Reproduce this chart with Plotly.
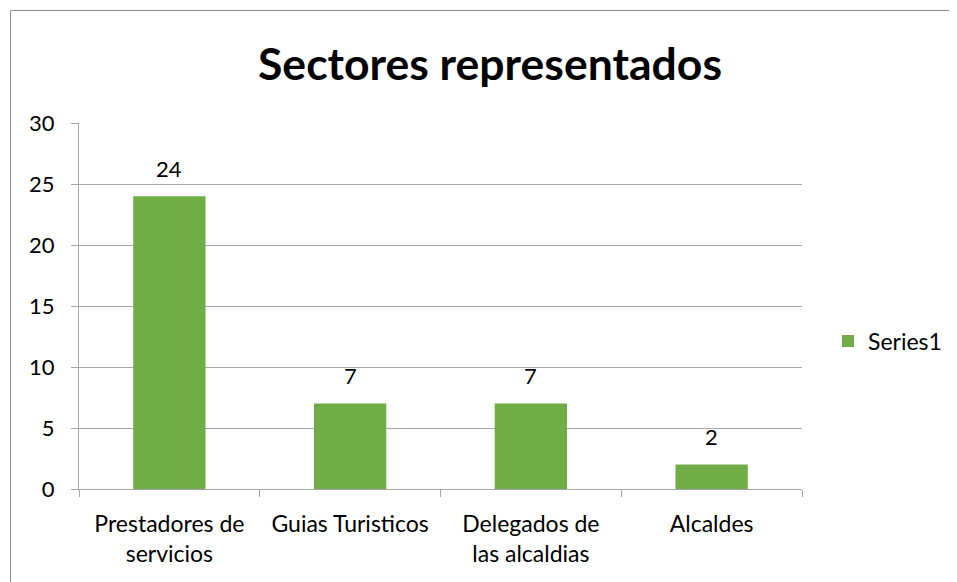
import plotly.graph_objects as go

categories = ["Prestadores de<br>servicios", "Guias Turisticos", "Delegados de<br>las alcaldias", "Alcaldes"]
values = [24, 7, 7, 2]
series_name = "Series1"
title_text = "Sectores representados"
y_ticks = [0, 5, 10, 15, 20, 25, 30]

FONT = "Lato, Calibri, sans-serif"
GREEN = "#70AD47"
GRID = "#A6A6A6"

OFF = 8  # page body margin
W, H = 957 - OFF, 582 - OFF
L, R, T, B = 79, 802, 123, 489  # plot area in screenshot pixels
pw, ph = R - L, B - T

fig = go.Figure()
fig.add_trace(go.Bar(
    x=categories, y=values, name=series_name,
    marker=dict(color=GREEN, line=dict(width=0)),
    width=0.4,
))
for c, v in zip(categories, values):
    fig.add_annotation(x=c, y=v, text=str(v), showarrow=False, yanchor="middle",
                       yshift=28, font=dict(family=FONT, size=22, color="#000000"))

fig.update_layout(
    width=W, height=H,
    margin=dict(l=L - OFF, r=(W + OFF) - R, t=T - OFF, b=(H + OFF) - B, pad=0, autoexpand=False),
    paper_bgcolor="white", plot_bgcolor="white",
    font=dict(family=FONT, size=22, color="#000000"),
    title=dict(text="<b>" + title_text + "</b>", x=(490 - OFF) / W, xanchor="center",
               y=1 - (64 - OFF) / H, yanchor="middle", font=dict(family=FONT, size=44.5, color="#000000")),
    showlegend=True,
    legend=dict(xref="container", yref="container", x=(828 - OFF) / W, xanchor="left",
                y=1 - (341 - OFF) / H, yanchor="middle",
                font=dict(family=FONT, size=23), itemwidth=30, bgcolor="rgba(0,0,0,0)"),
    bargap=0.6,
)
fig.update_xaxes(
    type="category", showgrid=False, showline=True, linecolor=GRID, linewidth=1,
    ticks="outside", tickson="boundaries", ticklen=7, tickcolor=GRID,
    tickfont=dict(family=FONT, size=23), ticklabelstandoff=14,
)
fig.update_yaxes(
    range=[0, 30], tickvals=y_ticks, showgrid=True, gridcolor=GRID, gridwidth=1,
    showline=True, linecolor=GRID, linewidth=1, ticks="outside", ticklen=7, tickcolor=GRID,
    tickfont=dict(family=FONT, size=22), zeroline=False, ticklabelstandoff=12,
)
# chart-area border (left and top edges visible in the frame)
bx0, by0 = (10.5 - L) / pw, (B - 10.5) / ph
fig.add_shape(type="line", xref="paper", yref="paper", x0=bx0, x1=bx0, y0=by0, y1=(B - 700) / ph,
              line=dict(color="#8C8C8C", width=1), layer="below")
fig.add_shape(type="line", xref="paper", yref="paper", x0=bx0, x1=(1000 - L) / pw, y0=by0, y1=by0,
              line=dict(color="#8C8C8C", width=1), layer="below")

fig.write_html("out.html")
